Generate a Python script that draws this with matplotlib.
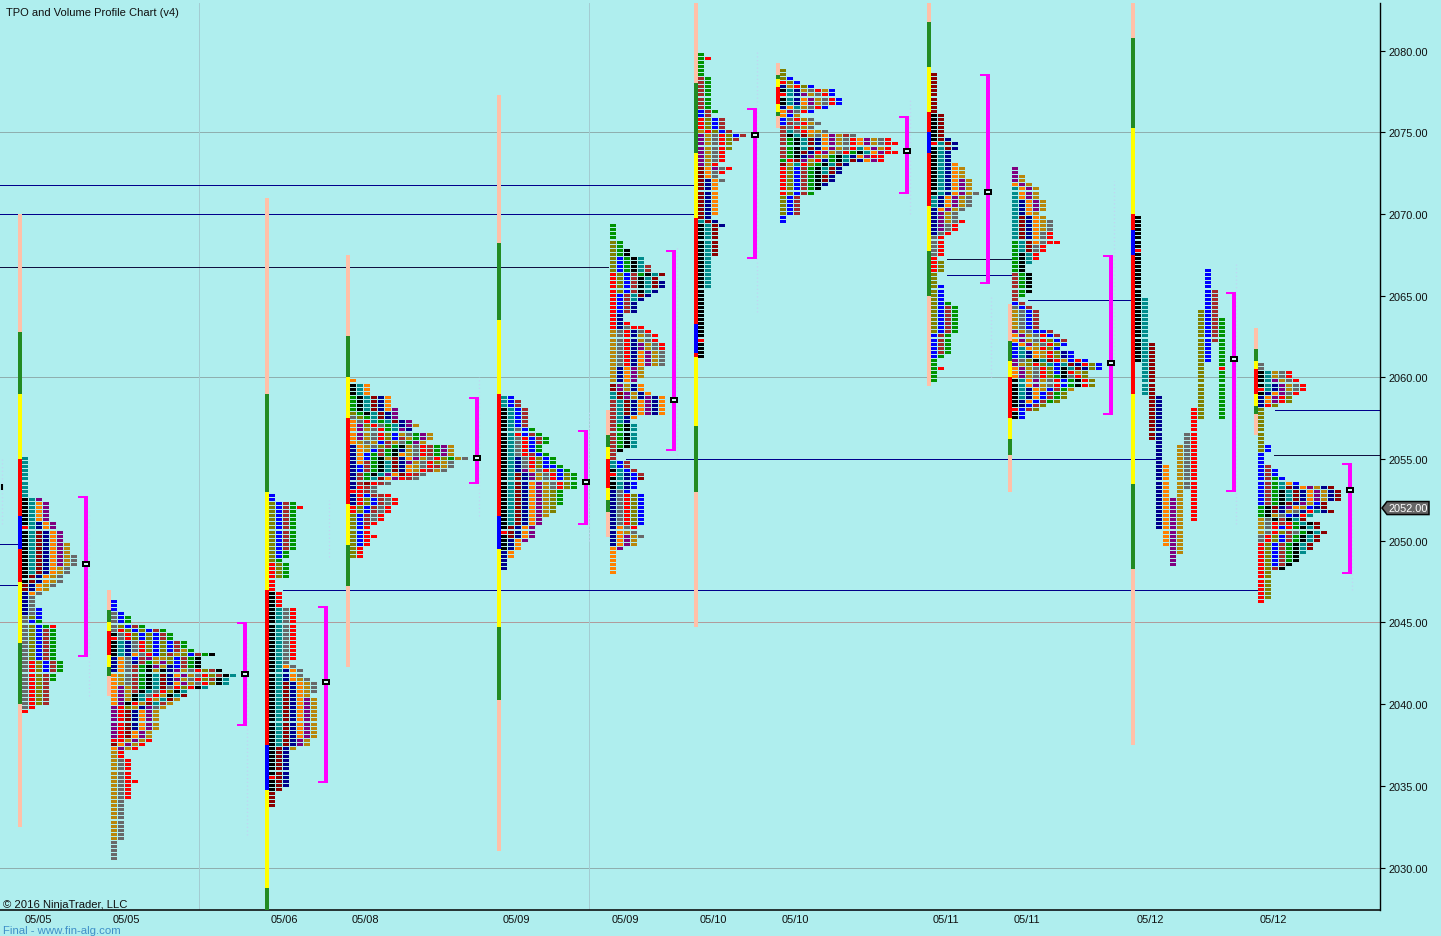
import matplotlib
matplotlib.use('Agg')
import matplotlib.pyplot as plt
from matplotlib.patches import Polygon, Rectangle

# letter colours used by the TPO cells and the session strips
COLORS = {'k': '#000000', 't': '#008B8B', 'm': '#8B0000', 'n': '#00008B', 'o': '#FF8000',
          'p': '#800080', 'g': '#B8860B', 'd': '#696969', 'r': '#FF0000', 'l': '#808000',
          'b': '#0000FF', 'w': '#A52A2A', 'e': '#009400',
          'P': '#FFC0A8', 'G': '#228B22', 'Y': '#FFFF00', 'R': '#FF0000', 'B': '#0000FF'}

# left edge of each profile, bar slots on the x axis
profile_x = [22, 111, 269, 350, 501, 610, 698, 780, 931, 1012, 1135, 1258]
profile_top = [2055, 2046.25, 2052.75, 2059.75, 2058.75, 2069.25, 2079.75, 2078.75, 2078.5, 2072.75, 2069.75, 2060.75]

# rows from the top price down: (letters in the row, how many rows like that)
rows_1 = [("t", 10), ("ktp", 1), ("ktop", 5), ("ktnop", 1), ("rtnop", 1), ("ktmnop", 3), ("ktmnopg", 3),
          ("ktmnopgd", 3), ("ktmnogd", 2), ("kmnogd", 2), ("mnogd", 1), ("mnog", 1), ("nod", 1), ("nd", 3),
          ("ndb", 2), ("dlb", 1), ("dbe", 1), ("dlber", 1), ("dlbwe", 8), ("drlbwe", 3), ("drlwe", 2),
          ("drlw", 6), ("dr", 1), ("r", 1)]
rows_2 = [("b", 3), ("db", 1), ("dbe", 2), ("dlbwe", 1), ("drlblbwe", 1), ("kdrlblbwe", 1), ("rdrlblbwe", 1),
          ("ktndrlblbwe", 2), ("ktndrlblbwge", 1), ("ktnodrblwglbwek", 1), ("nodbwpgglbwek", 1),
          ("nodnwegplbwek", 1), ("nodwekpgnbwek", 1), ("nodwekgknpgdrlwk", 1), ("ogdwektmnopgdrlwkt", 1),
          ("ogdwektmnpgdrlwkt", 1), ("ogdwektmnopgdrlkt", 1), ("opgwektmdrlrkt", 1), ("opgwktdrlkt", 1),
          ("opgktdrgktm", 1), ("opgktrgtmg", 1), ("opkrgmtwg", 1), ("prlgnpdg", 1), ("prmnopg", 5),
          ("prmopg", 2), ("rrgpgr", 1), ("mopgr", 1), ("opgr", 1), ("gr", 2), ("gdr", 5), ("gdrr", 1),
          ("gdr", 4), ("gd", 10), ("d", 5)]
rows_3 = [("b", 2), ("lbwe", 1), ("lbwer", 1), ("lbwe", 10), ("lbe", 2), ("le", 1), ("rle", 4), ("r", 3),
          ("kr", 4), ("ktdr", 13), ("ktd", 1), ("ktod", 1), ("ktnod", 2), ("ktnogd", 1), ("ktmnogd", 3),
          ("ktmnog", 1), ("ktmnopg", 10), ("ktmnpg", 2), ("kmng", 1), ("kmn", 6), ("rmn", 1), ("kmn", 2),
          ("km", 1), ("m", 4)]
rows_4 = [("o", 1), ("kto", 3), ("ektmno", 3), ("ektmnop", 1), ("lektmnp", 1), ("dletmnp", 1), ("odrtetmnp", 1),
          ("oplrdetnpg", 1), ("opgdretpn", 1), ("opgdrlbgdepg", 1), ("opgdrlbwgepg", 1), ("ogdgbwgdepg", 1),
          ("nogdlwekgdrwepg", 1), ("nogbwekngdrwepg", 1), ("nobewekogdrwepg", 1), ("nobekgmnopgdrlegd", 1),
          ("nowektmnpgdrlgd", 1), ("nbwektmnogdrwgd", 1), ("nbwektmnogrwgd", 1), ("nwektpomrwd", 1),
          ("nwetmoprwd", 1), ("nwmrwd", 1), ("nrwd", 1), ("rrwd", 1), ("nrbwwr", 1), ("nrlbwdr", 2),
          ("rlbwdr", 2), ("lbwdr", 2), ("lbwr", 1), ("lbr", 2), ("lbrr", 1), ("lbr", 2), ("lr", 3)]
rows_5 = [("tb", 1), ("tbw", 2), ("ktbw", 5), ("ktdbe", 1), ("ktrbwe", 1), ("ktdrbwe", 2), ("ktdrbe", 2),
          ("ktdrwbe", 1), ("ktndrlbe", 2), ("ktndrlbbe", 1), ("ktnpodrlbe", 1), ("ktmnpgdrble", 2),
          ("ktmnopgdrle", 2), ("ktmnopgle", 4), ("ktmnopgl", 2), ("ktmnopg", 1), ("ktmnop", 2), ("kmnop", 1),
          ("rmnop", 1), ("kmnop", 1), ("knop", 1), ("kno", 2), ("no", 2), ("n", 3)]
rows_6 = [("e", 4), ("le", 2), ("lek", 2), ("lbekt", 2), ("lbektw", 2), ("rlbwektm", 1), ("rlbwktm", 1),
          ("rlbwktmn", 2), ("rlbwktn", 1), ("rbwtmn", 1), ("rbwtn", 1), ("rbwn", 3), ("rn", 2), ("rnr", 1),
          ("rndrr", 1), ("gdrndr", 1), ("gdrngdr", 2), ("gdrnpgdr", 2), ("gdrnopgd", 4), ("gnopg", 3),
          ("gnop", 1), ("mpgno", 2), ("tmpgno", 1), ("tmpgnpno", 1), ("wtmnopno", 4), ("wtno", 1), ("wtn", 1),
          ("wekt", 6), ("wk", 1), ("w", 2), ("tbw", 2), ("ktbw", 1), ("rtnbw", 1), ("ktnbm", 1), ("ktnb", 2),
          ("ndb", 1), ("ndrlb", 8), ("nodr", 1), ("nogd", 1), ("nopgd", 1), ("nopg", 2), ("op", 1), ("o", 6)]
rows_7 = [("e", 1), ("er", 1), ("e", 4), ("we", 8), ("bwe", 1), ("bw", 1), ("rlbw", 3), ("grlbw", 1),
          ("pgdrlbw", 1), ("pgdrlw", 1), ("pgdrl", 2), ("pgdr", 3), ("pgr", 1), ("mopdr", 1), ("modr", 1),
          ("mod", 1), ("mnod", 1), ("mno", 8), ("mn", 1), ("tmn", 1), ("ktmn", 1), ("ktm", 7), ("kt", 8),
          ("k", 12), ("r", 1), ("k", 4)]
rows_8 = [("l", 2), ("lb", 1), ("rlb", 1), ("ngrlb", 1), ("ktngdrgb", 1), ("rtnpgdrb", 1), ("ktnopgdrb", 2),
          ("notgdrb", 1), ("opdrb", 1), ("obg", 1), ("bdrgd", 1), ("bwdrgd", 1), ("wdrgd", 1), ("wtdrogd", 1),
          ("wktmgdopgwd", 1), ("wektmnopgdropgdr", 1), ("wektmnopgdropgdrr", 1), ("wektmnopgdrtopgr", 1),
          ("wekmnrpgdrektoprr", 1), ("weknplgektnoprr", 1), ("ermpgrnektmnopr", 1), ("mgtrlektmn", 1),
          ("rlbwektmn", 2), ("rlbwekmn", 2), ("rlbwekn", 1), ("rlbwek", 1), ("rlbwe", 1), ("lbw", 5), ("b", 2)]
rows_9 = [("m", 10), ("km", 6), ("kmn", 1), ("rtmn", 1), ("ktmn", 1), ("ktn", 3), ("ktno", 1), ("ktnog", 3),
          ("ktnopg", 3), ("ktnopgd", 1), ("tnopgd", 3), ("nopgd", 1), ("npgd", 2), ("npgdr", 1), ("npdr", 2),
          ("ndr", 1), ("dr", 5), ("r", 1), ("rl", 3), ("l", 3), ("lb", 4), ("lbe", 1), ("lbwe", 7), ("bwe", 5),
          ("be", 1), ("e", 2), ("er", 1), ("e", 3)]
rows_10 = [("p", 2), ("pg", 2), ("opg", 1), ("topg", 3), ("tnopg", 3), ("tnog", 1), ("tmnog", 1), ("tmnogd", 3),
           ("tmnodr", 2), ("etmodrr", 1), ("etmdr", 2), ("ektr", 2), ("ekt", 1), ("ek", 2), ("wek", 5), ("we", 1),
           ("w", 1), ("bw", 1), ("dbw", 1), ("gdbw", 5), ("pgdbbw", 1), ("opgdrbw", 1), ("opgdrlbw", 1),
           ("bopgdrlb", 1), ("btogrlb", 1), ("btnogrlnb", 2), ("pdlktmrgbrb", 1), ("pglrltbtmnrlb", 1),
           ("opgdrlbktmnlb", 1), ("opgdrlbkrgl", 1), ("opgdrlekdrl", 1), ("ktopgdrbekrl", 2), ("ktnogbweg", 1),
           ("ktnobwel", 2), ("knobwel", 1), ("knbwl", 1), ("rbwl", 1), ("kb", 2)]
rows_12 = [("d", 2), ("ktgdr", 2), ("ktpgdr", 1), ("ktnpgdr", 1), ("rtnpgdr", 1), ("knopdr", 1), ("noprl", 2),
           ("nrl", 1), ("l", 9), ("lb", 2), ("b", 3), ("bw", 1), ("bwb", 2), ("bweb", 1), ("bwetob", 1),
           ("bwetmnopgnm", 1), ("bwektmnopgnm", 3), ("bwekmnpgbm", 1), ("ekmnpogbnm", 1), ("ekmngdnrtnm", 1),
           ("ekgdbnrt", 1), ("gdkwktm", 1), ("gdrwretkm", 1), ("gdrbrektm", 1), ("gdrlwdektm", 1),
           ("drlbwektm", 2), ("rlbwektm", 2), ("rlbwekt", 1), ("rlbwek", 2), ("rlbwk", 1), ("rlwk", 1),
           ("rl", 7), ("r", 1)]

# profile 11 never collapsed, every letter stays in its own column: (letter, first price, last price)
columns_11 = [("k", 2069.75, 2061), ("t", 2064.75, 2059), ("m", 2062, 2056.25), ("n", 2058.75, 2050.75),
              ("o", 2054.5, 2049.75), ("p", 2052.5, 2048.5), ("g", 2055.75, 2049.25), ("d", 2056.5, 2053.25),
              ("r", 2058, 2051.25), ("l", 2064, 2057.5), ("b", 2066.5, 2061), ("w", 2065.25, 2062.25),
              ("e", 2063.5, 2057.5)]
red_cells_11 = [(0, 2067.75), (12, 2060.5)]

profile_rows = [rows_1, rows_2, rows_3, rows_4, rows_5, rows_6, rows_7, rows_8, rows_9, rows_10, None, rows_12]

# session strip left of each profile: first price, then (colour, price where it ends)
strip_tops = [2070, 2047, 2071, 2067.5, 2077.25, 2058, 2083, 2079.25, 2083, 2064.5, 2083, 2063]
strip_segments = [
    [('P', 2062.75), ('G', 2059), ('Y', 2055), ('R', 2051.5), ('B', 2049.5), ('R', 2047.5), ('Y', 2043.75), ('G', 2040), ('P', 2032.5)],
    [('P', 2045.75), ('G', 2045), ('Y', 2044.5), ('R', 2043), ('Y', 2042.25), ('G', 2041.75), ('P', 2040.5)],
    [('P', 2059), ('G', 2053), ('Y', 2047), ('R', 2037.5), ('B', 2034.75), ('Y', 2028.75), ('G', 2027)],
    [('P', 2062.5), ('G', 2060), ('Y', 2057.5), ('R', 2052.25), ('Y', 2049.75), ('G', 2047.25), ('P', 2042.25)],
    [('P', 2068.25), ('G', 2063.5), ('Y', 2059), ('R', 2051.5), ('B', 2049.5), ('Y', 2044.75), ('G', 2040.25), ('P', 2031)],
    [('P', 2056.5), ('G', 2055.75), ('Y', 2055), ('R', 2053.25), ('Y', 2052.5), ('G', 2051.75), ('P', 2050.25)],
    [('P', 2078), ('G', 2073.75), ('Y', 2069.75), ('R', 2063.25), ('B', 2061.5), ('R', 2061.25), ('Y', 2057), ('G', 2053), ('P', 2044.75)],
    [('P', 2078.5), ('G', 2078.25), ('Y', 2077.75), ('R', 2076.75), ('Y', 2076.25), ('G', 2076), ('P', 2075.25)],
    [('P', 2081.75), ('G', 2079), ('Y', 2076.25), ('R', 2075), ('B', 2073.75), ('R', 2070.5), ('Y', 2067.75), ('G', 2065), ('P', 2059.5)],
    [('P', 2062.25), ('G', 2061), ('Y', 2060), ('R', 2057.5), ('Y', 2056.25), ('G', 2055.25), ('P', 2053)],
    [('P', 2080.75), ('G', 2075.25), ('Y', 2070), ('R', 2069), ('B', 2067.5), ('R', 2059), ('Y', 2053.5), ('G', 2048.25), ('P', 2037.5)],
    [('P', 2061.75), ('G', 2061), ('Y', 2060.5), ('R', 2059), ('Y', 2058.25), ('G', 2057.75), ('P', 2056.5)],
]

# value area brackets and point of control
va_x = [86, 245, 326, 477, 586, 674, 755, 907, 988, 1111, 1234, 1350]
va_high = [2052.75, 2045.02, 2046, 2058.8, 2056.77, 2067.79, 2076.5, 2076, 2078.56, 2067.5, 2065.24, 2054.76]
va_low = [2042.88, 2038.68, 2035.17, 2053.47, 2050.96, 2055.49, 2067.24, 2071.22, 2065.71, 2057.69, 2053, 2047.96]
poc = [2048.57, 2041.84, 2041.37, 2055.06, 2053.59, 2058.63, 2074.83, 2073.85, 2071.36, 2060.88, 2061.12, 2053.12]

# naked POC lines: price, from, to, colour
poc_lines = [(2071.75, 0, 696, '#00008B'), (2070, 0, 696, '#00008B'), (2066.75, 0, 608, '#101040'),
             (2055, 626, 1155, '#00008B'), (2047, 283, 1257, '#00008B'), (2064.75, 1028, 1134, '#00008B'),
             (2067.25, 947, 1011, '#101040'), (2066.25, 947, 1011, '#00008B'), (2058, 1275, 1380, '#00008B'),
             (2055.25, 1274, 1380, '#101040'), (2049.8, 0, 20, '#00008B'), (2047.3, 0, 20, '#00008B')]

# very faint volume profile traces
faint_x = [2, 89, 247, 329, 479, 589, 677, 757, 910, 991, 1114, 1236, 1352]
faint_high = [2055, 2052, 2044, 2052.5, 2060, 2058, 2068, 2080, 2077, 2065, 2072, 2067, 2052]
faint_low = [2051, 2040.5, 2032, 2049, 2051.5, 2050, 2055, 2064, 2070, 2060, 2060.5, 2051, 2047]

date_x = [38, 126, 284, 365, 516, 625, 713, 795, 946, 1027, 1150, 1273]
date_labels = ['05/05', '05/05', '05/06', '05/08', '05/09', '05/09', '05/10', '05/10', '05/11', '05/11', '05/12', '05/12']
price_ticks = [2030, 2035, 2040, 2045, 2050, 2055, 2060, 2065, 2070, 2075, 2080]
grid_prices = [2030, 2060, 2075]
grid_red_prices = [2045]
grid_x = [199, 589]
last_price = 2052.0

BG = '#AFEEEE'
PX = 16.34            # pixels per price point
CELL_W = 6
CELL_STEP = 7
CELL_H = 3 / PX
TICK = 0.25
FONT = 'Liberation Sans'

fig = plt.figure(figsize=(14.41, 9.37), dpi=100, facecolor=BG)
ax = fig.add_axes([0, 26.5 / 937, 1380 / 1441, 906.5 / 937], facecolor=BG)
ax.set_xlim(0, 1380)
ax.set_ylim(2027.43, 2082.91)

ax.hlines(grid_prices, 0, 1380, color='#8FAFAF', lw=0.72, antialiased=False, zorder=1)
ax.hlines(grid_red_prices, 0, 1380, color='#B09C9C', lw=0.72, antialiased=False, zorder=1)
ax.vlines(grid_x, 2027.43, 2082.91, color='#A3CCD2', lw=0.72, antialiased=False, zorder=1)
ax.vlines(faint_x, faint_low, faint_high, color='#C0D6F2', lw=0.9, linestyles=(0, (1, 2)), zorder=1)

for price, x0, x1, col in poc_lines:
    ax.hlines(price, x0, x1, color=col, lw=0.72, antialiased=False, zorder=2)
ax.vlines(2, 2053.1, 2053.5, color='black', lw=1.5, zorder=2)

# collect all TPO cells, then draw them in one go
xs, ys, cols = [], [], []
for i, rows in enumerate(profile_rows):
    if rows is None:
        continue
    price = profile_top[i]
    for letters, count in rows:
        for n in range(count):
            for j, c in enumerate(letters):
                xs.append(profile_x[i] + j * CELL_STEP)
                ys.append(price + 0.5 / PX - CELL_H / 2)
                cols.append(COLORS[c])
            price -= TICK

for j, (c, first, last) in enumerate(columns_11):
    price = first
    while price >= last:
        col = c
        if (j, price) in red_cells_11:
            col = 'r'
        xs.append(profile_x[10] + j * CELL_STEP)
        ys.append(price + 0.5 / PX - CELL_H / 2)
        cols.append(COLORS[col])
        price -= TICK

ax.bar(xs, CELL_H, width=CELL_W, bottom=ys, align='edge', color=cols, linewidth=0, antialiased=False, zorder=3)

# session strips
for i, segs in enumerate(strip_segments):
    top = strip_tops[i]
    for c, end in segs:
        ax.bar(profile_x[i] - 4, top - end, width=4, bottom=end, align='edge', color=COLORS[c],
               linewidth=0, antialiased=False, zorder=3)
        top = end

# value area brackets
for x, hi, lo, p in zip(va_x, va_high, va_low, poc):
    ax.bar(x - 2, hi - lo, width=4, bottom=lo, align='edge', color='#FF00FF', linewidth=0, antialiased=False, zorder=4)
    ax.bar(x - 8, 2 / PX, width=6, bottom=hi - 2 / PX, align='edge', color='#FF00FF', linewidth=0, antialiased=False, zorder=4)
    ax.bar(x - 8, 2 / PX, width=6, bottom=lo, align='edge', color='#FF00FF', linewidth=0, antialiased=False, zorder=4)
    ax.add_patch(Rectangle((x - 4, p - 3 / PX), 8, 6 / PX, fc='black', lw=0, antialiased=False, zorder=5))
    ax.add_patch(Rectangle((x - 2, p - 1 / PX), 4, 2 / PX, fc='#D8F6F6', lw=0, antialiased=False, zorder=6))

for side in ['top', 'left']:
    ax.spines[side].set_visible(False)
ax.spines['right'].set_linewidth(1.0)
ax.spines['bottom'].set_linewidth(1.1)

ax.yaxis.tick_right()
ax.set_yticks(price_ticks, ['%.2f' % p for p in price_ticks], fontname=FONT, fontsize=7.9, color='#101010')
ax.tick_params(axis='y', length=3.6, width=0.8, pad=2.4)
ax.set_xticks(date_x, date_labels, fontname=FONT, fontsize=7.9, color='#101010')
ax.tick_params(axis='x', length=0, pad=3.2)

# last price callout on the axis
ax.add_patch(Polygon([(1382, last_price), (1387, last_price + 6.5 / PX), (1429, last_price + 6.5 / PX),
                      (1429, last_price - 6.5 / PX), (1387, last_price - 6.5 / PX)],
                     closed=True, fc='#666666', ec='#050505', lw=1.1, clip_on=False, zorder=7))
ax.text(1408, last_price, '%.2f' % last_price, color='white', fontname=FONT, fontsize=7.9,
        ha='center', va='center', clip_on=False, zorder=8)

fig.text(6 / 1441, 1 - 13 / 937, 'TPO and Volume Profile Chart (v4)', fontname=FONT, fontsize=8.0,
         color='#101010', ha='left', va='center')
fig.text(3 / 1441, 1 - 905 / 937, '\u00a9 2016 NinjaTrader, LLC', fontname=FONT, fontsize=8.1,
         color='#101010', ha='left', va='center')
fig.text(3 / 1441, 1 - 931 / 937, 'Final - www.fin-alg.com', fontname=FONT, fontsize=8.2,
         color='#3E8FC8', ha='left', va='center')

plt.savefig('out.png', dpi=100, facecolor=BG)
